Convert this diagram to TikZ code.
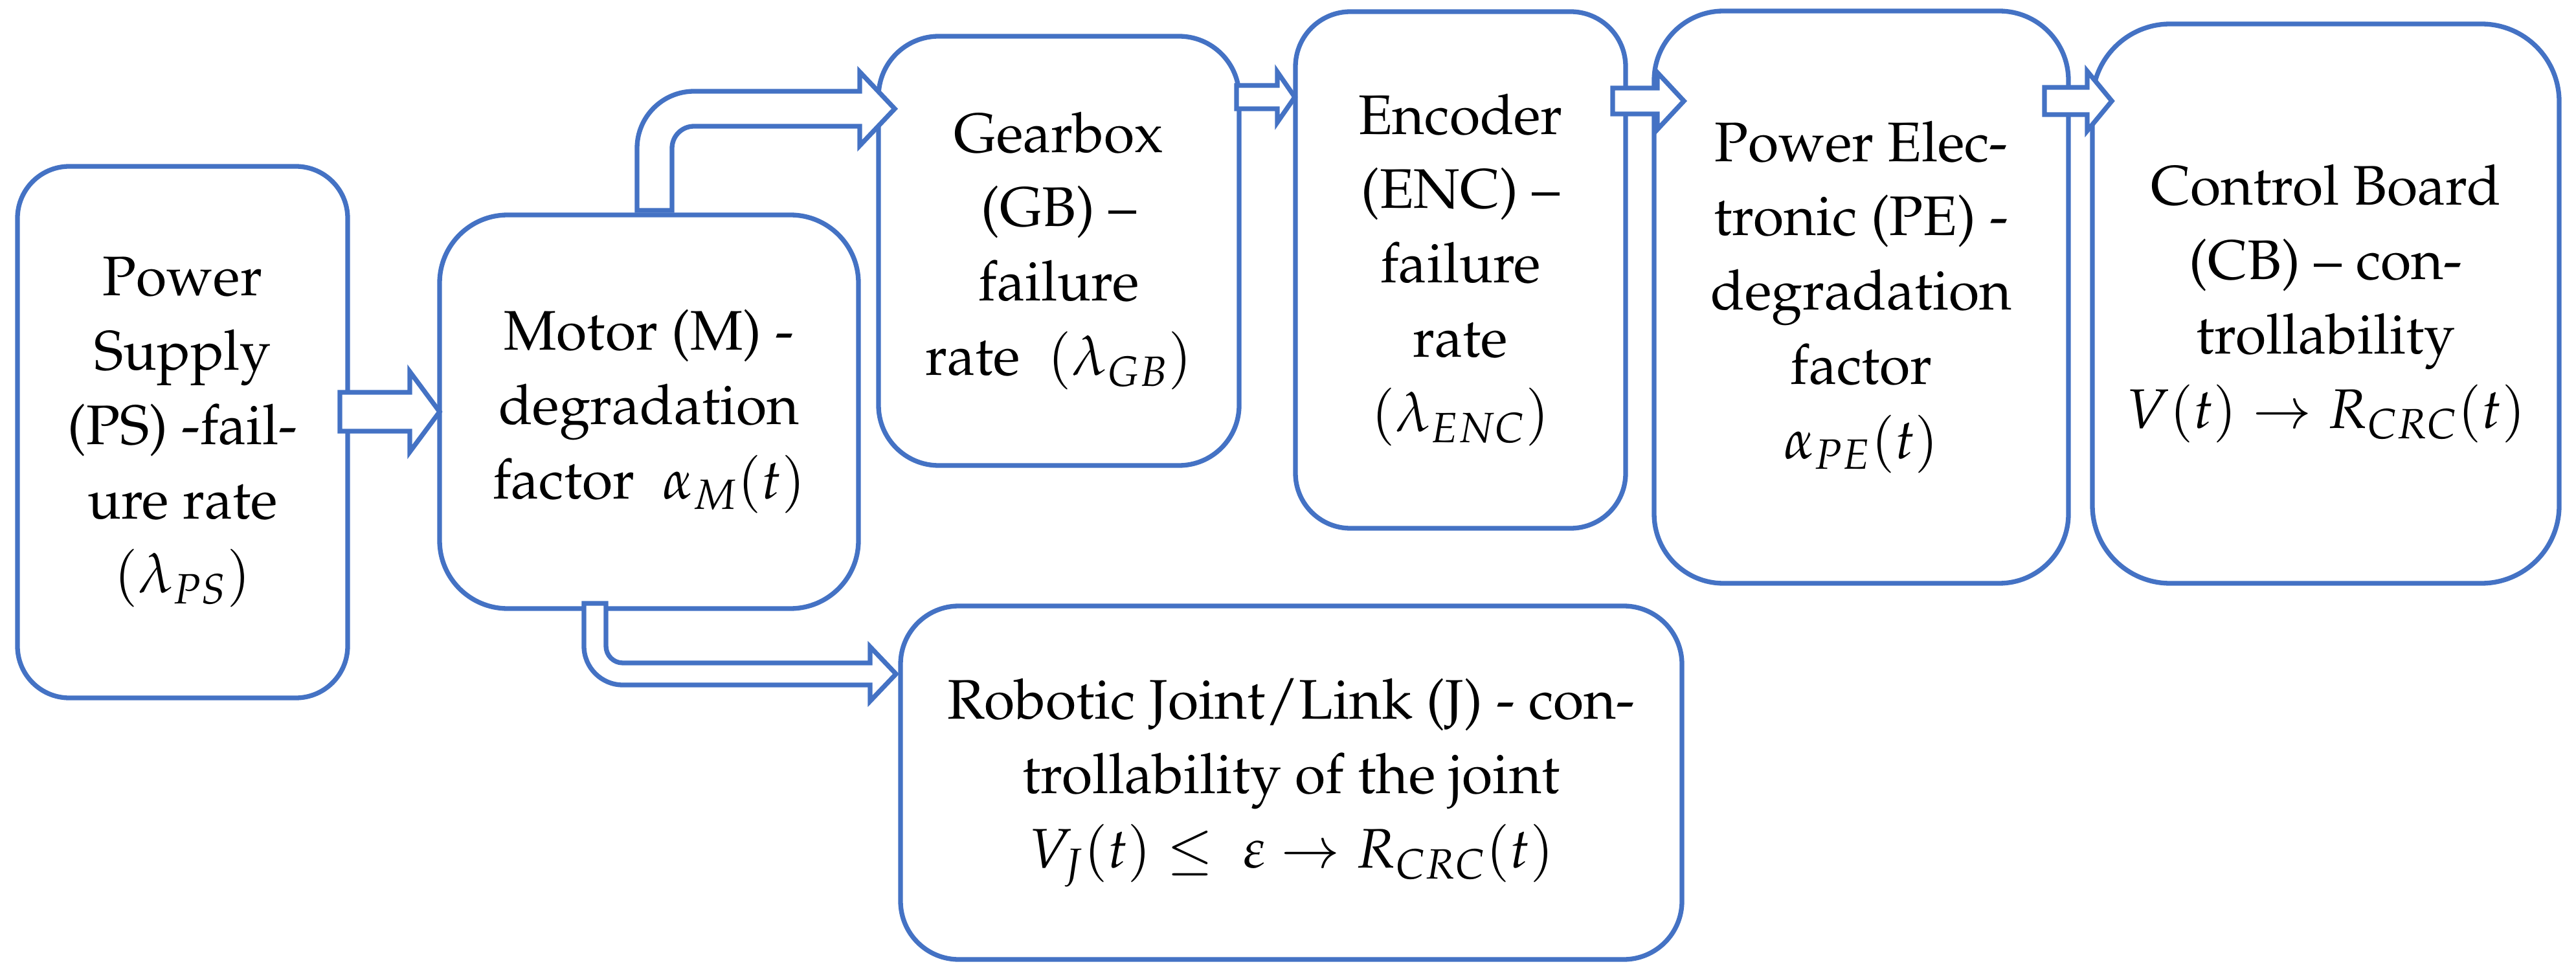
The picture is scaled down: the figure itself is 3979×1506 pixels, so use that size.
\documentclass[tikz,border=0pt]{standalone}
\usepackage[T1]{fontenc}
\usepackage{mathpazo}
\usetikzlibrary{calc}
\definecolor{boxblue}{HTML}{4472C4}

\begin{document}
\begin{tikzpicture}[x=0.1mm, y=-0.1mm,
  unitbox/.style={draw=boxblue, line width=0.73mm, rectangle, rounded corners=#1, align=center, fill=white, outer sep=0pt, inner sep=2mm, font={\fontsize{24.5}{32.7}\selectfont}},
  unitbox/.default=9mm,
  fatarrow/.style={draw=boxblue, line width=0.73mm, fill=white, line join=miter}
]
\useasboundingbox (0,0) rectangle (3979,1506);

\node[unitbox=8mm, minimum width=51mm, minimum height=82.1mm] (ps) at (282,667.5) {Power\\Supply\\(PS) -fail-\\ure rate\\$(\lambda_{PS})$};
\node[unitbox=10.5mm, minimum width=64.7mm, minimum height=60.8mm] (motor) at (1002.5,636) {Motor (M) -\\degradation\\factor \ $\alpha_M(t)$};
\node[unitbox=9.3mm, minimum width=55.7mm, minimum height=66.3mm] (gb) at (1635.5,387.5) {Gearbox\\(GB) --\\failure\\rate \ $(\lambda_{GB})$};
\node[unitbox=8.5mm, minimum width=51mm, minimum height=79.8mm] (enc) at (2256,417) {Encoder\\(ENC) --\\failure\\rate\\$(\lambda_{ENC})$};
\node[unitbox=10.7mm, minimum width=64mm, minimum height=88.4mm] (pe) at (2875,459) {Power Elec-\\tronic (PE) -\\degradation\\factor\\$\alpha_{PE}(t)$};
\node[unitbox=12mm, minimum width=72.1mm, minimum height=86.4mm] (cb) at (3592.5,469) {Control Board\\(CB) -- con-\\trollability\\$V(t)\to R_{CRC}(t)$};
\node[unitbox=9mm, minimum width=120.7mm, minimum height=54.6mm] (robot) at (1994.5,1209) {Robotic Joint/Link (J) - con-\\trollability of the joint\\$V_J(t)\leq\ \varepsilon\to R_{CRC}(t)$};

\draw[fatarrow] ($(ps.east |- motor.west)+(-12,-30)$) -- ($(motor.west)+(-46,-30)$) -- ($(motor.west)+(-46,-62)$) -- (motor.west) -- ($(motor.west)+(-46,62)$) -- ($(motor.west)+(-46,30)$) -- ($(ps.east |- motor.west)+(-12,30)$) -- cycle;

\coordinate (g2e) at ($(enc.north west)+(-1,132)$);
\coordinate (e2p) at ($(pe.north west)+(46,139)$);
\coordinate (p2c) at ($(cb.north west)+(30,119)$);

\draw[fatarrow] ($(gb.east |- g2e)+(-4,-18)$) -- ($(g2e)+(-27,-18)$) -- ($(g2e)+(-27,-39)$) -- (g2e) -- ($(g2e)+(-27,39)$) -- ($(g2e)+(-27,18)$) -- ($(gb.east |- g2e)+(-4,18)$) -- cycle;
\draw[fatarrow] ($(enc.east |- e2p)+(-20,-20)$) -- ($(e2p)+(-41,-20)$) -- ($(e2p)+(-41,-44)$) -- (e2p) -- ($(e2p)+(-41,44)$) -- ($(e2p)+(-41,20)$) -- ($(enc.east |- e2p)+(-20,20)$) -- cycle;
\draw[fatarrow] ($(pe.east |- p2c)+(-37,-21)$) -- ($(p2c)+(-38,-21)$) -- ($(p2c)+(-38,-46)$) -- (p2c) -- ($(p2c)+(-38,46)$) -- ($(p2c)+(-38,21)$) -- ($(pe.east |- p2c)+(-37,21)$) -- cycle;

\coordinate (m2g) at ($(motor.north west)+(332,-7)$);
\coordinate (m2gtip) at ($(gb.north west)+(25,112)$);
\coordinate (m2gc) at (m2g |- m2gtip);

\draw[fatarrow] ($(m2g)+(-27,0)$) -- ($(m2gc)+(-27,61)$) .. controls ($(m2gc)+(-27,12.4)$) and ($(m2gc)+(12.4,-27)$) .. ($(m2gc)+(61,-27)$) -- ($(m2gtip)+(-54,-27)$) -- ($(m2gtip)+(-54,-57)$) -- (m2gtip) -- ($(m2gtip)+(-54,57)$) -- ($(m2gtip)+(-54,27)$) -- ($(m2gc)+(61,27)$) .. controls ($(m2gc)+(42.2,27)$) and ($(m2gc)+(27,42.2)$) .. ($(m2gc)+(27,61)$) -- ($(m2g)+(27,0)$) -- cycle;

\coordinate (m2r) at ($(motor.south west)+(240,-8)$);
\coordinate (m2rtip) at ($(robot.north west)+(-7,105)$);
\coordinate (m2rc) at (m2r |- m2rtip);

\draw[fatarrow] ($(m2r)+(-17,0)$) -- ($(m2rc)+(-17,-43)$) .. controls ($(m2rc)+(-17,-9.9)$) and ($(m2rc)+(9.9,17)$) .. ($(m2rc)+(43,17)$) -- ($(m2rtip)+(-40,17)$) -- ($(m2rtip)+(-40,42)$) -- (m2rtip) -- ($(m2rtip)+(-40,-42)$) -- ($(m2rtip)+(-40,-17)$) -- ($(m2rc)+(43,-17)$) .. controls ($(m2rc)+(28.6,-17)$) and ($(m2rc)+(17,-28.6)$) .. ($(m2rc)+(17,-43)$) -- ($(m2r)+(17,0)$) -- cycle;

\end{tikzpicture}
\end{document}
